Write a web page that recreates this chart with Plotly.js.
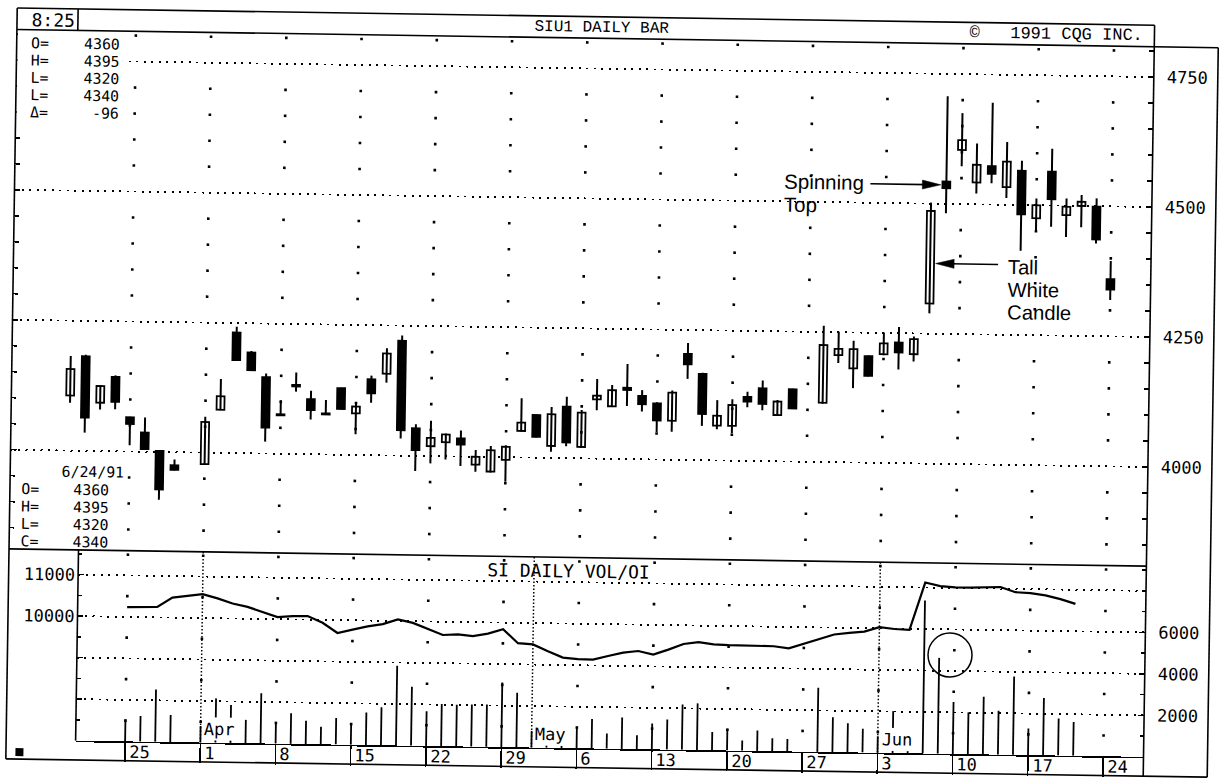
<!DOCTYPE html>
<html><head><meta charset="utf-8">
<script src="https://cdn.plot.ly/plotly-3.0.1.min.js"></script>
<style>
html,body{margin:0;padding:0;background:#fff;overflow:hidden;}
#wrap{width:1219px;height:780px;transform-origin:609.5px 390px;}
</style></head>
<body><div id="wrap"><div id="chart" style="width:1219px;height:780px"></div></div>
<script>
// ---------------- DATA ----------------
const candleDates = ['1991-03-19','1991-03-20','1991-03-21','1991-03-22','1991-03-25','1991-03-26','1991-03-27','1991-03-28',
'1991-04-01','1991-04-02','1991-04-03','1991-04-04','1991-04-05','1991-04-08','1991-04-09','1991-04-10','1991-04-11','1991-04-12',
'1991-04-15','1991-04-16','1991-04-17','1991-04-18','1991-04-19','1991-04-22','1991-04-23','1991-04-24','1991-04-25','1991-04-26',
'1991-04-29','1991-04-30','1991-05-01','1991-05-02','1991-05-03','1991-05-06','1991-05-07','1991-05-08','1991-05-09','1991-05-10',
'1991-05-13','1991-05-14','1991-05-15','1991-05-16','1991-05-17','1991-05-20','1991-05-21','1991-05-22','1991-05-23','1991-05-24',
'1991-05-28','1991-05-29','1991-05-30','1991-05-31','1991-06-03','1991-06-04','1991-06-05','1991-06-06','1991-06-07',
'1991-06-10','1991-06-11','1991-06-12','1991-06-13','1991-06-14','1991-06-17','1991-06-18','1991-06-19','1991-06-20','1991-06-21','1991-06-24'];
const openP  = [4106,4182,4093,4143,4066,4037,4002,3975, 3978,4083,4232,4194,4147,4076,4133,4106,4079,4128, 4080,4146,4157,4221,4053,4019,4027,4035,3985,3972, 3995,4051,4082,4023,4099,4022,4114,4101,4137,4122, 4108,4075,4204,4166,4067,4067,4123,4140,4089,4139, 4114,4206,4181,4205,4209,4232,4210,4308,4543, 4604,4542,4574,4534,4566,4475,4565,4482,4500,4499,4360];
const highP  = [4182,4185,4127,4146,4067,4066,4003,3986, 4069,4142,4243,4197,4154,4103,4157,4122,4105,4129, 4102,4153,4206,4231,4061,4068,4044,4050,4013,4021, 4023,4114,4083,4098,4118,4093,4153,4142,4183,4133, 4110,4133,4225,4168,4116,4118,4133,4155,4118,4140, 4262,4251,4234,4206,4251,4262,4244,4502,4707, 4675,4617,4696,4621,4585,4513,4609,4514,4521,4515,4395];
const lowP   = [4092,4035,4080,4081,4012,4004,3908,3965, 3977,4082,4177,4159,4023,4073,4120,4067,4076,4087, 4040,4101,4140,4033,3971,3986,3994,3982,3971,3970, 3953,4050,4039,4012,4023,4020,4093,4100,4102,4092, 4053,4054,4156,4066,4060,4053,4103,4098,4088,4101, 4112,4191,4143,4166,4207,4180,4196,4289,4482, 4573,4521,4541,4513,4412,4452,4459,4440,4459,4428,4320];
const closeP = [4157,4064,4125,4095,4053,4005,3928,3966, 4059,4109,4179,4160,4050,4074,4130,4085,4077,4088, 4093,4119,4196,4049,4011,4035,4042,4023,4000,4013, 4020,4067,4040,4084,4030,4088,4121,4132,4133,4106, 4075,4129,4184,4089,4086,4107,4114,4110,4115,4102, 4225,4218,4218,4167,4230,4213,4239,4486,4530, 4623,4576,4559,4583,4482,4500,4512,4498,4508,4436,4340];

const volDates = candleDates.slice(4, 66);   // 3/25 .. 6/20
const volume = [1060,1230,2520,1300, 800,2140,1830,1125,2420, 1020,1480,1130,850,1280, 1000,1570,1830,3840,2840,
  1670,2030,2010,2030,2040, 3110,2630,800,800,1000, 1040,1420,730,1520,670, 1250,1450,2190,2250,880,
  1050,490,990,620,600, 3090,1680,1400,1150, 800,2020,900,7370,4620, 2500,2015,2780,2115,3780, 1280,2760,1790,1630];
const openInterest = [10235,10240,10250,10480, 10575,10480,10360,10285,10175, 10050,10080,10085,9930,9690,
  9775,9860,9920,10040,9960, 9825,9680,9700,9665,9730, 9840,9510,9485,9325,9180, 9150,9140,9235,9320,9365,
  9285,9410,9550,9600,9555, 9540,9540,9545,9530,9485, 9725,9835,9880,9915, 10030,9990,9975,11120,11040,
  11015,11015,11020,11040,10920, 10905,10855,10770,10660];

const priceTicks = [4000,4250,4500,4750];
const oiTicks = [8000,9000,10000,11000];
const oiTickText = ['','','10000','11000'];
const volTicks = [2000,4000,6000];
const weekStarts = ['1991-03-25','1991-04-01','1991-04-08','1991-04-15','1991-04-22','1991-04-29','1991-05-06',
  '1991-05-13','1991-05-20','1991-05-27','1991-06-03','1991-06-10','1991-06-17','1991-06-24'];
const weekLabels = ['25','1','8','15','22','29','6','13','20','27','3','10','17','24'];
const monthStarts = ['1991-04-01','1991-05-01','1991-06-03'];
const monthLabels = ['Apr','May','Jun'];

// ---------------- HELPERS ----------------
const W = 1219, H = 780;
const L = 11.5, R = 1149, RR = 1213, TOP = 17, HDR = 38.5, SEP = 558, BASE = 748.7, BOT = 768, VL = 81;
const X0 = 130.5, DX = 15.05;            // slot -> px
const PY0 = 458.8, PPU = 0.52;           // price 4000 at PY0, px per point
const OIPX = 41.5;                       // px per 1000 OI (= per 2000 volume)
const MONO = 'DejaVu Sans Mono';
const SANS = 'Liberation Sans';
const NB = '\u00A0';
const px = x => x / W, py = y => 1 - y / H;

function slot(d) {
  const p = d.split('-').map(Number);
  const t = Date.UTC(p[0], p[1] - 1, p[2]);
  const base = Date.UTC(1991, 2, 25);
  const dd = Math.round((t - base) / 86400000);
  const wk = Math.floor(dd / 7);
  return wk * 5 + (dd - wk * 7);
}
const cx = candleDates.map(slot);
const vx = volDates.map(slot);
const weekX = weekStarts.map(slot);

// ---------------- TRACES ----------------
const traces = [];
const dX = [], dY = [];
for (let p = 3850; p <= 4800; p += 50) { if (p % 250 === 0) continue; weekX.forEach(s => { dX.push(s); dY.push(p); }); }
traces.push({type:'scatter', mode:'markers', x:dX, y:dY, xaxis:'x', yaxis:'y',
  marker:{size:2.6, color:'#000', symbol:'square'}, hoverinfo:'skip'});
const wX = [], wY = [];
cx.forEach((s, i) => { wX.push(s, s, null); wY.push(lowP[i], highP[i], null); });
traces.push({type:'scatter', mode:'lines', x:wX, y:wY, xaxis:'x', yaxis:'y', line:{color:'#000', width:2}, hoverinfo:'skip'});
const wb = {x:[], base:[], y:[]}, bb = {x:[], base:[], y:[]};
cx.forEach((s, i) => {
  const o = openP[i], c = closeP[i];
  if (c >= o) { wb.x.push(s); wb.base.push(o); wb.y.push(Math.max(c - o, 1)); }
  else { bb.x.push(s); bb.base.push(c); bb.y.push(Math.max(o - c, 1)); }
});
traces.push({type:'bar', x:wb.x, base:wb.base, y:wb.y, width:0.52, xaxis:'x', yaxis:'y',
  marker:{color:'#fff', line:{color:'#000', width:1.8}}, hoverinfo:'skip'});
traces.push({type:'bar', x:bb.x, base:bb.base, y:bb.y, width:0.52, xaxis:'x', yaxis:'y',
  marker:{color:'#000', line:{color:'#000', width:1.8}}, hoverinfo:'skip'});
const vdX = [], vdY = [];
for (let o = 7500; o <= 11500; o += 1000) weekX.forEach(s => { vdX.push(s); vdY.push(o); });
traces.push({type:'scatter', mode:'markers', x:vdX, y:vdY, xaxis:'x2', yaxis:'y2',
  marker:{size:2.6, color:'#000', symbol:'square'}, hoverinfo:'skip'});
traces.push({type:'scatter', mode:'lines', x:vx, y:openInterest, xaxis:'x2', yaxis:'y2',
  line:{color:'#000', width:2.2}, hoverinfo:'skip'});
traces.push({type:'bar', x:vx, y:volume, width:0.12, xaxis:'x2', yaxis:'y3',
  marker:{color:'#000', line:{width:0}}, hoverinfo:'skip'});

// ---------------- SHAPES ----------------
const shapes = [];
function seg(x0, y0, x1, y1, w) {
  shapes.push({type:'line', xref:'paper', yref:'paper', x0:px(x0), y0:py(y0), x1:px(x1), y1:py(y1),
    line:{color:'#000', width:w || 1.6}, layer:'above'});
}
shapes.push({type:'rect', xref:'paper', yref:'paper', x0:px(L + 1), x1:px(118), y0:py(128), y1:py(HDR + 1),
  fillcolor:'#fff', line:{width:0}, layer:'above'});
seg(L, TOP, R, TOP); seg(R, TOP, R, HDR); seg(L, HDR, RR, HDR);
seg(72.4, TOP, 72.4, HDR);
seg(L, TOP, L, BOT); seg(RR, HDR, RR, BOT); seg(L, BOT, RR, BOT);
seg(R, HDR, R, BOT); seg(L, SEP, R, SEP); seg(VL, SEP, VL, BASE);
shapes.push({type:'rect', xref:'paper', yref:'paper', x0:px(21), x1:px(29), y0:py(765), y1:py(757),
  fillcolor:'#000', line:{width:0}, layer:'above'});
monthStarts.forEach(m => shapes.push({type:'line', xref:'x2', yref:'paper', x0:slot(m), x1:slot(m), y0:py(BASE), y1:py(SEP),
  line:{color:'#000', width:1.5, dash:'1.5px,2px'}, layer:'above'}));
const iTop = candleDates.indexOf('1991-06-07'), iTall = candleDates.indexOf('1991-06-06');
const spinY = (openP[iTop] + closeP[iTop]) / 2;
shapes.push({type:'line', xref:'x', yref:'y', xsizemode:'pixel', ysizemode:'pixel', xanchor:cx[iTop], yanchor:spinY,
  x0:-76, x1:-20, y0:0, y1:0, line:{color:'#000', width:1.6}, layer:'above'});
shapes.push({type:'path', xref:'x', yref:'y', xsizemode:'pixel', ysizemode:'pixel', xanchor:cx[iTop], yanchor:spinY,
  path:'M-5.5,0 L-24,4.5 L-24,-4.5 Z', fillcolor:'#000', line:{color:'#000', width:0.5}, layer:'above'});
shapes.push({type:'line', xref:'x', yref:'y', xsizemode:'pixel', ysizemode:'pixel', xanchor:cx[iTall], yanchor:4385,
  x0:20, x1:68, y0:0, y1:0, line:{color:'#000', width:1.6}, layer:'above'});
shapes.push({type:'path', xref:'x', yref:'y', xsizemode:'pixel', ysizemode:'pixel', xanchor:cx[iTall], yanchor:4385,
  path:'M5.5,0 L24,4.5 L24,-4.5 Z', fillcolor:'#000', line:{color:'#000', width:0.5}, layer:'above'});
const vTop = volDates.indexOf('1991-06-07');
shapes.push({type:'circle', xref:'x2', yref:'y3', xsizemode:'pixel', ysizemode:'pixel', xanchor:vx[vTop], yanchor:volume[vTop],
  x0:-11.2, x1:32.8, y0:-19, y1:25, line:{color:'#000', width:1.5}, layer:'above'});

// ---------------- ANNOTATIONS ----------------
const ann = [];
function txt(x, y, t, o) {
  o = o || {};
  ann.push({xref:'paper', yref:'paper', x:px(x), y:py(y), text:t, showarrow:false, align:o.align || 'left',
    xanchor:o.xanchor || 'left', yanchor:o.yanchor || 'middle', bgcolor:o.bg, borderpad:o.pad || 0,
    font:{family:o.family || MONO, size:o.size || 17, color:'#000'}});
}
// multi-line block: line spacing = 1.3 * outer size, glyphs at inner size
function block(lines, inner, spacing) {
  return {text: lines.map(l => '<span style="font-size:' + inner + 'px">' + l + '</span>').join('<br>'), size: spacing / 1.3};
}
txt(47.4, 29, '8:25', {xanchor:'center', size:18});
txt(596, 28, 'SIU1 DAILY BAR', {xanchor:'center', size:16, family:'Liberation Mono'});
txt(1138, 28, '\u00A9' + NB + NB + NB + '1991 CQG INC.', {xanchor:'right', size:17, family:'Liberation Mono'});

const n = candleDates.length - 1;
const lastVals = [openP[n], highP[n], lowP[n], closeP[n]];
// top-left quote block (labels column + right-aligned values column)
const topLab = ['O=', 'H=', 'L=', 'L=', '\u0394='];
const topVal = lastVals.map(String).concat([String(closeP[n] - closeP[n - 1])]);
const b1a = block(topLab, 14.8, 17.3), b1b = block(topVal, 14.8, 17.3);
txt(25, 85.6, b1a.text, {size:b1a.size});
txt(116, 85.6, b1b.text, {size:b1b.size, xanchor:'right', align:'right'});
// lower-left block
const dp = candleDates[n].split('-');
const dateStr = (+dp[1]) + '/' + (+dp[2]) + '/' + dp[0].slice(2);
txt(94, 479.6, dateStr, {xanchor:'center', size:14.8});
const b2a = block(['O=', 'H=', 'L=', 'C='], 14.8, 17.4), b2b = block(lastVals.map(String), 14.8, 17.4);
txt(21.5, 523.4, b2a.text, {size:b2a.size});
txt(112, 523.4, b2b.text, {size:b2b.size, xanchor:'right', align:'right'});

const b3 = block(['Spinning', 'Top'], 20.5, 23.1);
txt(780, 190, b3.text, {size:b3.size, family:SANS});
const b4 = block(['Tall', 'White', 'Candle'], 20.2, 22.6);
txt(1005, 283, b4.text, {size:b4.size, family:SANS});

txt(571, 571.6, 'SI DAILY VOL/OI', {xanchor:'center', size:18});
weekStarts.forEach((d, i) => ann.push({xref:'x2', yref:'paper', x:slot(d), y:py(758.8), text:weekLabels[i], showarrow:false,
  xanchor:'left', yanchor:'middle', xshift:2, font:{family:MONO, size:17, color:'#000'}}));
monthStarts.forEach((d, i) => ann.push({xref:'x2', yref:'paper', x:slot(d), y:py(BASE - 1.5), text:monthLabels[i], showarrow:false,
  xanchor:'left', yanchor:'bottom', xshift:1.5, bgcolor:'#fff', borderpad:1, font:{family:MONO, size:17, color:'#000'}}));

const pTop = 4000 + (PY0 - HDR) / PPU, pBot = 4000 - (SEP - PY0) / PPU;
const oiTop = 7000 + (BASE - SEP) / OIPX * 1000;
const volTop = (BASE - SEP) / OIPX * 2000;
const tickFont = {family:MONO, size:17, color:'#000'};

const layout = {
  width:W, height:H, margin:{l:0, r:0, t:0, b:0}, paper_bgcolor:'#fff', plot_bgcolor:'rgba(0,0,0,0)',
  showlegend:false, barmode:'overlay', hovermode:false,
  xaxis:{domain:[px(L), px(R)], range:[(L - X0) / DX, (R - X0) / DX], anchor:'y', showticklabels:false, ticks:'',
    showgrid:false, zeroline:false, showline:false, fixedrange:true},
  yaxis:{domain:[py(SEP), py(HDR)], range:[pBot, pTop], anchor:'x', side:'right', tickvals:priceTicks,
    ticks:'inside', ticklen:6, tickwidth:1.5, tickcolor:'#000', mirror:'ticks', showline:false,
    showgrid:true, gridcolor:'#000', gridwidth:1.8, griddash:'2px,5.5px', zeroline:false,
    minor:{dtick:50, tick0:0, ticks:'inside', ticklen:5, tickwidth:1.5, tickcolor:'#000', showgrid:false},
    tickfont:tickFont, ticklabelstandoff:12, fixedrange:true},
  xaxis2:{domain:[px(VL), px(R)], range:[(VL - X0) / DX, (R - X0) / DX], anchor:'y2', tickvals:weekX,
    ticks:'outside', ticklen:BOT - BASE, tickwidth:1.5, tickcolor:'#000', showticklabels:false,
    showgrid:false, zeroline:false, showline:true, linecolor:'#000', linewidth:1.6, fixedrange:true},
  yaxis2:{domain:[py(BASE), py(SEP)], range:[7000, oiTop], anchor:'x2', side:'left', tickvals:oiTicks, ticktext:oiTickText,
    ticks:'inside', ticklen:6, tickwidth:1.5, tickcolor:'#000', showline:false,
    showgrid:true, gridcolor:'#000', gridwidth:1.8, griddash:'2px,5.5px', zeroline:false,
    minor:{dtick:500, tick0:0, ticks:'inside', ticklen:4, tickwidth:1.5, tickcolor:'#000', showgrid:false},
    tickfont:tickFont, ticklabelstandoff:2, fixedrange:true},
  yaxis3:{overlaying:'y2', anchor:'x2', side:'right', range:[0, volTop], tickvals:volTicks,
    ticks:'inside', ticklen:6, tickwidth:1.5, tickcolor:'#000', showgrid:false, zeroline:false, showline:false,
    minor:{dtick:1000, tick0:0, ticks:'inside', ticklen:4, tickwidth:1.5, tickcolor:'#000', showgrid:false},
    tickfont:tickFont, ticklabelstandoff:12, fixedrange:true},
  shapes:shapes, annotations:ann
};

Plotly.newPlot('chart', traces, layout, {staticPlot:true, displayModeBar:false}).then(() => {
  document.getElementById('wrap').style.transform = 'rotate(0.87deg)';
});
</script>
</body></html>
